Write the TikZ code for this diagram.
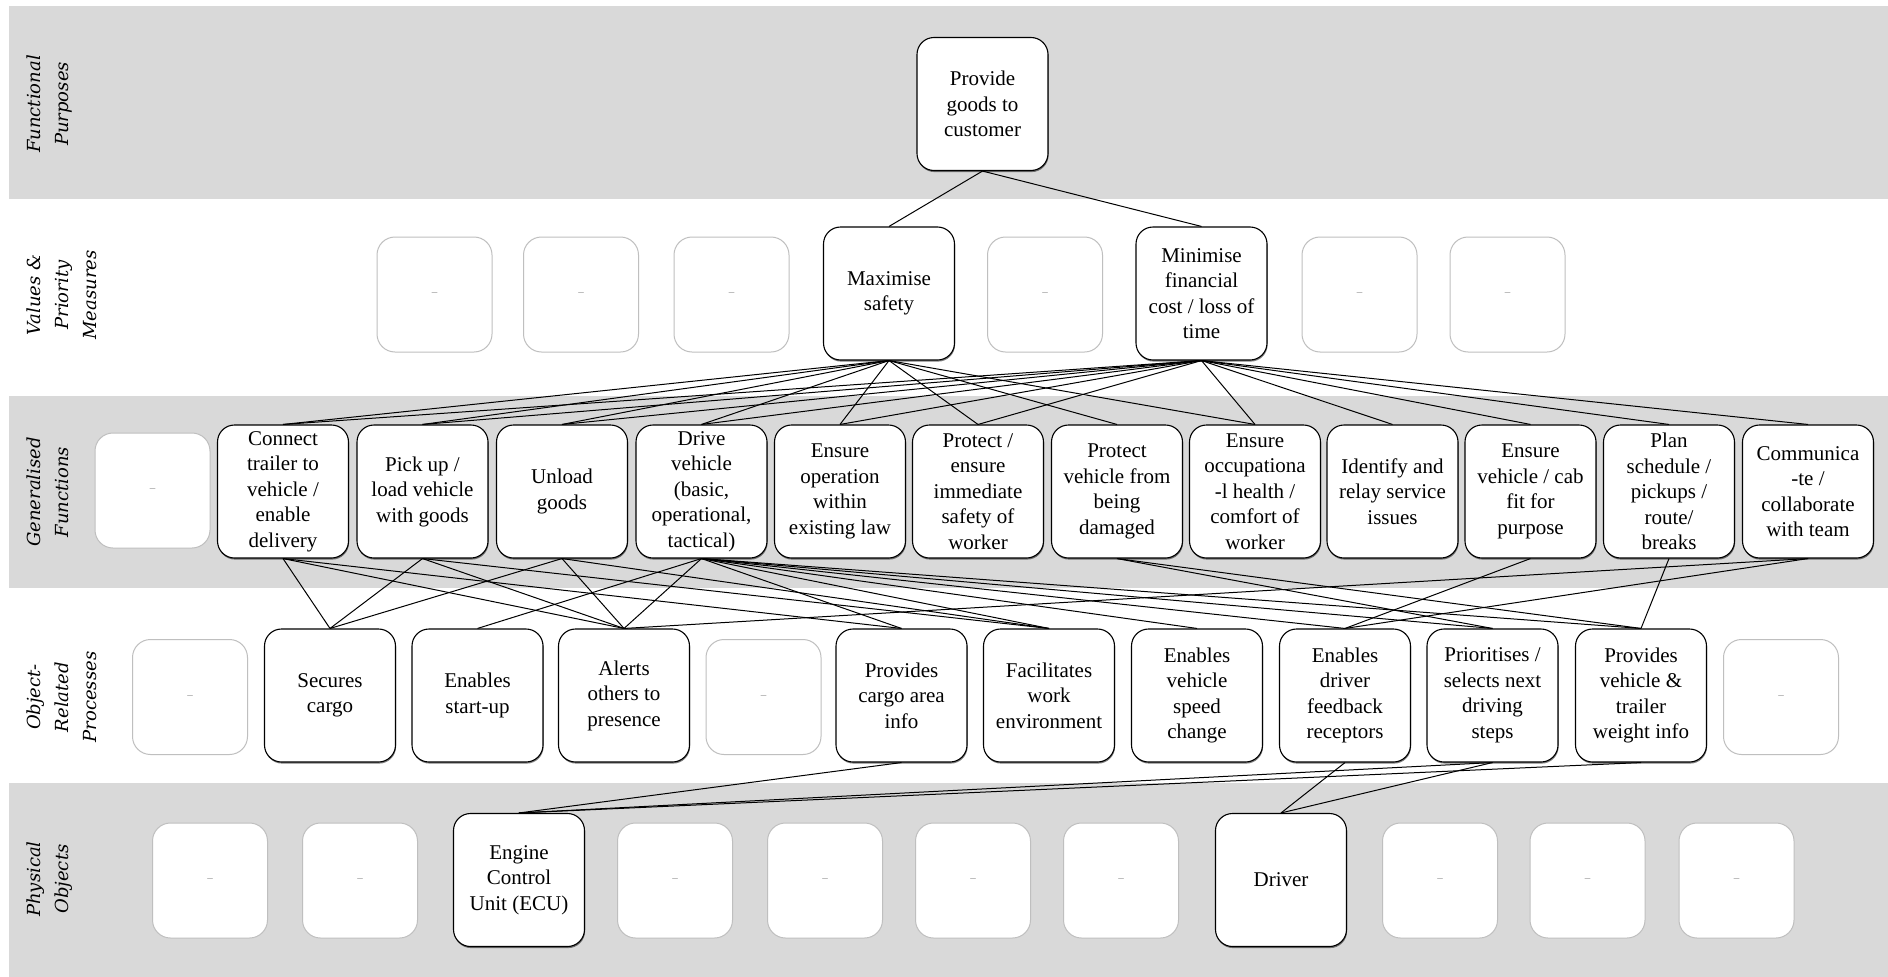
\documentclass[tikz,border=0pt]{standalone}
\usepackage{fontspec}
\setmainfont{Liberation Serif}
\newfontfamily\bandfont{DejaVu Serif}
\usetikzlibrary{shadows}
\definecolor{bandgray}{HTML}{D9D9D9}
\definecolor{blankline}{HTML}{BFBFBF}

\tikzset{
  fn/.style={draw=black, line width=1.1pt, fill=white, rounded corners=17pt,
    minimum width=131pt, minimum height=133pt, inner sep=0pt, align=center,
    font=\fontsize{21}{25.5}\selectfont,
    drop shadow={shadow xshift=0.6pt, shadow yshift=-1.6pt, fill=black, opacity=0.5}},
  blank/.style={draw=blankline, line width=1pt, fill=white, rounded corners=18pt,
    minimum width=115pt, minimum height=115pt, inner sep=0pt,
    font=\fontsize{11}{13}\selectfont, text=black!45},
  band/.style={fill=bandgray, draw=none},
  bandlabel/.style={rotate=90, anchor=north, align=center,
    font=\bandfont\itshape\fontsize{18}{28}\selectfont},
  link/.style={draw=black, line width=1pt},
}

\begin{document}
\begin{tikzpicture}[x=1pt,y=-1pt]
\useasboundingbox (0,0) rectangle (1888,977);
\fill[white] (0,0) rectangle (1888,977);

% abstraction levels
\fill[band] (9,6) rectangle (1888,199);
\fill[band] (9,396) rectangle (1888,588);
\fill[band] (9,783) rectangle (1888,977);

\node[bandlabel] (lfp)  at (23,104) {Functional\\Purposes};
\node[bandlabel] (lvpm) at (23,295) {Values \&\\Priority\\Measures};
\node[bandlabel] (lgf)  at (23,492) {Generalised\\Functions};
\node[bandlabel] (lorp) at (23,697) {Object-\\Related\\Processes};
\node[bandlabel] (lpo)  at (23,879) {Physical\\Objects};

% functional purpose
\node[fn] (fp) at (982.5,104) {Provide\\goods to\\customer};

% values and priority measures
\node[blank] (vb1) at (434.5,294.5) {--};
\node[blank] (vb2) at (581,294.5) {--};
\node[blank] (vb3) at (731.5,294.5) {--};
\node[fn] (vsafe) at (889,293.5) {Maximise\\safety};
\node[blank] (vb4) at (1045,294.5) {--};
\node[fn] (vcost) at (1201.5,293.5) {Minimise\\financial\\cost / loss of\\time};
\node[blank] (vb5) at (1359.5,294.5) {--};
\node[blank] (vb6) at (1507.5,294.5) {--};

% generalised functions
\node[blank] (gb1) at (152.5,490.5) {--};
\node[fn] (gconn) at (283,491.5) {Connect\\trailer to\\vehicle /\\enable\\delivery};
\node[fn] (gpick) at (422.5,491.5) {Pick up /\\load vehicle\\with goods};
\node[fn] (gunload) at (562,491.5) {Unload\\goods};
\node[fn] (gdrive) at (701.5,491.5) {Drive\\vehicle\\(basic,\\operational,\\tactical)};
\node[fn] (glaw) at (840,491.5) {Ensure\\operation\\within\\existing law};
\node[fn] (gsafe) at (978,491.5) {Protect /\\ensure\\immediate\\safety of\\worker};
\node[fn] (gprot) at (1117,491.5) {Protect\\vehicle from\\being\\damaged};
\node[fn] (gocc) at (1255,491.5) {Ensure\\occupationa\\-l health /\\comfort of\\worker};
\node[fn] (gident) at (1392.5,491.5) {Identify and\\relay service\\issues};
\node[fn] (gfit) at (1530.5,491.5) {Ensure\\vehicle / cab\\fit for\\purpose};
\node[fn] (gplan) at (1669,491.5) {Plan\\schedule /\\pickups /\\route/\\breaks};
\node[fn] (gcomm) at (1808,491.5) {Communica\\-te /\\collaborate\\with team};

% object-related processes
\node[blank] (ob1) at (190,697) {--};
\node[fn] (osecure) at (330,695.5) {Secures\\cargo};
\node[fn] (ostart) at (477.5,695.5) {Enables\\start-up};
\node[fn] (oalert) at (624,695.5) {Alerts\\others to\\presence};
\node[blank] (ob2) at (763.5,697) {--};
\node[fn] (ocargo) at (901.5,695.5) {Provides\\cargo area\\info};
\node[fn] (owork) at (1049,695.5) {Facilitates\\work\\environment};
\node[fn] (ospeed) at (1197,695.5) {Enables\\vehicle\\speed\\change};
\node[fn] (ofeed) at (1345,695.5) {Enables\\driver\\feedback\\receptors};
\node[fn] (oprior) at (1492.5,695.5) {Prioritises /\\selects next\\driving\\steps};
\node[fn] (oweight) at (1641,695.5) {Provides\\vehicle \&\\trailer\\weight info};
\node[blank] (ob3) at (1781,697) {--};

% physical objects
\node[blank] (pb1) at (210,880.5) {--};
\node[blank] (pb2) at (360,880.5) {--};
\node[fn] (pecu) at (519,880) {Engine\\Control\\Unit (ECU)};
\node[blank] (pb3) at (675,880.5) {--};
\node[blank] (pb4) at (825,880.5) {--};
\node[blank] (pb5) at (973,880.5) {--};
\node[blank] (pb6) at (1121,880.5) {--};
\node[fn] (pdriver) at (1281,880) {Driver};
\node[blank] (pb7) at (1440,880.5) {--};
\node[blank] (pb8) at (1587.5,880.5) {--};
\node[blank] (pb9) at (1736.5,880.5) {--};

% purpose -> values
\foreach \t in {vsafe,vcost} \draw[link] (fp.south) -- (\t.north);

% values -> generalised functions
\foreach \t in {gconn,gpick,gunload,gdrive,glaw,gsafe,gprot,gocc}
  \draw[link] (vsafe.south) -- (\t.north);
\foreach \t in {gconn,gpick,gunload,gdrive,glaw,gsafe,gocc,gident,gfit,gplan,gcomm}
  \draw[link] (vcost.south) -- (\t.north);

% generalised functions -> processes
\foreach \t in {osecure,oalert,ocargo} \draw[link] (gconn.south) -- (\t.north);
\foreach \t in {osecure,oalert,owork} \draw[link] (gpick.south) -- (\t.north);
\foreach \t in {osecure,oalert,owork} \draw[link] (gunload.south) -- (\t.north);
\foreach \t in {ostart,oalert,ocargo,owork,ospeed,ofeed,oprior,oweight}
  \draw[link] (gdrive.south) -- (\t.north);
\foreach \t in {oprior,oweight} \draw[link] (gprot.south) -- (\t.north);
\draw[link] (gfit.south) -- (ofeed.north);
\draw[link] (gplan.south) -- (oweight.north);
\foreach \t in {oalert,ofeed} \draw[link] (gcomm.south) -- (\t.north);

% processes -> physical objects
\foreach \s in {ocargo,oprior,oweight} \draw[link] (\s.south) -- (pecu.north);
\foreach \s in {ofeed,oprior} \draw[link] (\s.south) -- (pdriver.north);
\end{tikzpicture}
\end{document}
